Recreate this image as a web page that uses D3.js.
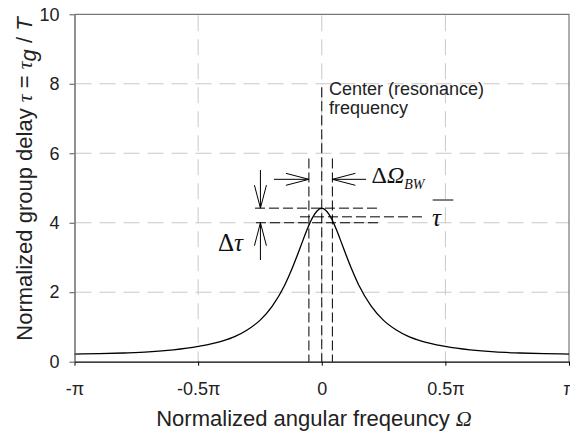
<!DOCTYPE html>
<html><head><meta charset="utf-8">
<script src="https://cdn.jsdelivr.net/npm/d3@7"></script>
<style>body{margin:0;background:#fff}svg{display:block}</style>
</head><body>
<svg id="chart" width="570" height="434"></svg>
<script>
// Normalized angular frequency, in units of pi
const omega = [-1, -0.9, -0.8, -0.7, -0.6, -0.5, -0.4, -0.35, -0.3, -0.25, -0.2, -0.15, -0.12, -0.1, -0.08, -0.06, -0.04, -0.02, 0,
               0.02, 0.04, 0.06, 0.08, 0.1, 0.12, 0.15, 0.2, 0.25, 0.3, 0.35, 0.4, 0.5, 0.6, 0.7, 0.8, 0.9, 1];
// Normalized group delay
const delay = [0.22, 0.23, 0.25, 0.28, 0.34, 0.44, 0.60, 0.73, 0.92, 1.19, 1.60, 2.20, 2.68, 3.04, 3.42, 3.79, 4.11, 4.33, 4.42,
               4.33, 4.11, 3.79, 3.42, 3.04, 2.68, 2.20, 1.60, 1.19, 0.92, 0.73, 0.60, 0.44, 0.34, 0.28, 0.25, 0.23, 0.22];
const xTickValues = [-1, -0.5, 0, 0.5, 1];
const xTickLabels = ["-π", "-0.5π", "0", "0.5π", "π"];
const yTickValues = [0, 2, 4, 6, 8, 10];
const xGridValues = [-0.5, 0, 0.5];
const yGridValues = [2, 4, 6, 8];
// Annotation levels
const peakDelay = 4.42, meanDelay = 4.17, lowDelay = 4.0;
const bwEdges = [-0.052, 0.043];
const centerTop = 7.9, bwTop = 5.85;

const svg = d3.select("#chart");
const x = d3.scaleLinear().domain([-1, 1]).range([74.5, 569]);
const y = d3.scaleLinear().domain([0, 10]).range([361.7, 14.3]);
const SANS = "'Liberation Sans', Arial, Helvetica, sans-serif";
const SERIF = "'Liberation Serif', 'Times New Roman', serif";

// grid
const grid = svg.append("g").attr("stroke", "#c8c8c8").attr("stroke-width", 1).attr("stroke-dasharray", "16,8").attr("fill", "none");
grid.selectAll("line.h").data(yGridValues).join("line").attr("class", "h")
  .attr("x1", x(-1) + 1).attr("x2", x(1)).attr("y1", d => y(d)).attr("y2", d => y(d));
grid.selectAll("line.v").data(xGridValues).join("line").attr("class", "v")
  .attr("x1", d => x(d)).attr("x2", d => x(d)).attr("y1", y(10) + 1).attr("y2", y(0));

// frame top/right
svg.append("path").attr("d", `M${x(-1)},${y(10)}H${x(1)}V${y(0)}`).attr("fill", "none").attr("stroke", "#777").attr("stroke-width", 1.2);

// annotation dashed lines
const ann = svg.append("g").attr("stroke", "#000").attr("stroke-width", 1).attr("stroke-dasharray", "10,4").attr("fill", "none");
ann.append("line").attr("x1", x(0)).attr("x2", x(0)).attr("y1", y(centerTop)).attr("y2", y(0));
ann.selectAll("line.bw").data(bwEdges).join("line").attr("class", "bw")
  .attr("x1", d => x(d)).attr("x2", d => x(d)).attr("y1", y(bwTop)).attr("y2", y(0));
ann.append("line").attr("x1", x(-0.27)).attr("x2", x(0.228)).attr("y1", y(peakDelay)).attr("y2", y(peakDelay));
ann.append("line").attr("x1", x(-0.266)).attr("x2", x(0.228)).attr("y1", y(lowDelay)).attr("y2", y(lowDelay));
ann.append("line").attr("x1", x(-0.088)).attr("x2", x(0.41)).attr("y1", y(meanDelay)).attr("y2", y(meanDelay));

// curve
const pts = omega.map((o, i) => [o, delay[i]]);
svg.append("path").datum(pts)
  .attr("d", d3.line().x(d => x(d[0])).y(d => y(d[1])).curve(d3.curveMonotoneX))
  .attr("fill", "none").attr("stroke", "#000").attr("stroke-width", 1.3);

// axes
const xAxis = svg.append("g").attr("transform", `translate(0,${y(0)})`)
  .call(d3.axisBottom(x).tickValues(xTickValues).tickFormat((d, i) => xTickLabels[i]).tickSize(4).tickPadding(17).tickSizeOuter(0));
xAxis.select(".domain").attr("stroke", "#000").attr("stroke-width", 1.3);
xAxis.selectAll(".tick line").attr("stroke", "#000");
xAxis.selectAll("text").attr("font-family", SANS).attr("font-size", 18).attr("fill", "#222");

const yAxis = svg.append("g").attr("transform", `translate(${x(-1)},0)`)
  .call(d3.axisLeft(y).tickValues(yTickValues).tickSize(5).tickPadding(10).tickSizeOuter(0));
yAxis.select(".domain").attr("stroke", "#555").attr("stroke-width", 1.3);
yAxis.selectAll(".tick line").attr("stroke", "#555");
yAxis.selectAll("text").attr("font-family", SANS).attr("font-size", 18).attr("fill", "#222");

// axis titles
const xt = svg.append("text").attr("x", 314).attr("y", 426).attr("text-anchor", "middle")
  .attr("font-family", SANS).attr("font-size", 22).attr("fill", "#222");
xt.append("tspan").text("Normalized angular freqeuncy ");
xt.append("tspan").attr("font-family", SERIF).attr("font-style", "italic").text("Ω");

const yt = svg.append("text").attr("transform", "translate(32.3,179) rotate(-90)").attr("text-anchor", "middle")
  .attr("font-family", SANS).attr("font-size", 22).attr("fill", "#222");
yt.append("tspan").text("Normalized group delay ");
yt.append("tspan").attr("font-family", SERIF).attr("font-style", "italic").text("τ");
yt.append("tspan").text(" = ");
yt.append("tspan").attr("font-family", SERIF).attr("font-style", "italic").text("τ");
yt.append("tspan").attr("font-style", "italic").attr("dy", 4).text("g");
yt.append("tspan").attr("dy", -4).text(" / ");
yt.append("tspan").attr("font-style", "italic").text("T");

// center label
const ct = svg.append("text").attr("font-family", SANS).attr("font-size", 18).attr("fill", "#222");
ct.append("tspan").attr("x", 329).attr("y", 95).text("Center (resonance)");
ct.append("tspan").attr("x", 329).attr("y", 113.5).text("frequency");

// arrows
function arrow(x1, y1, x2, y2) {
  const L = 23, W = 6;
  const dx = x2 - x1, dy = y2 - y1, len = Math.hypot(dx, dy);
  const ux = dx / len, uy = dy / len;
  const bx = x2 - ux * L, by = y2 - uy * L;
  const px = -uy * W, py = ux * W;
  svg.append("path")
    .attr("d", `M${x1},${y1}L${x2},${y2}M${bx + px},${by + py}L${x2},${y2}L${bx - px},${by - py}`)
    .attr("fill", "none").attr("stroke", "#000").attr("stroke-width", 1);
}
const xArr = x(-0.248);
arrow(xArr, 170, xArr, y(peakDelay));
arrow(xArr, 260, xArr, y(lowDelay));
const yArr = y(5.25);
arrow(274, yArr, x(bwEdges[0]), yArr);
arrow(366, yArr, x(bwEdges[1]), yArr);

// math labels
const dO = svg.append("text").attr("x", 371.5).attr("y", 183.3).attr("font-family", SERIF).attr("font-size", 24).attr("fill", "#111");
dO.append("tspan").text("Δ");
dO.append("tspan").attr("font-style", "italic").text("Ω");
dO.append("tspan").attr("font-style", "italic").attr("font-size", 14).attr("dy", 6).text("BW");

const dT = svg.append("text").attr("x", 218).attr("y", 251).attr("font-family", SERIF).attr("font-size", 25).attr("fill", "#111");
dT.append("tspan").text("Δ");
dT.append("tspan").attr("font-style", "italic").text("τ");

svg.append("text").attr("x", 432).attr("y", 226).attr("font-family", SERIF).attr("font-size", 25)
  .attr("font-style", "italic").attr("fill", "#111").text("τ");
svg.append("line").attr("x1", 432.7).attr("x2", 453.3).attr("y1", 200).attr("y2", 200).attr("stroke", "#000").attr("stroke-width", 1);
</script>
</body></html>
